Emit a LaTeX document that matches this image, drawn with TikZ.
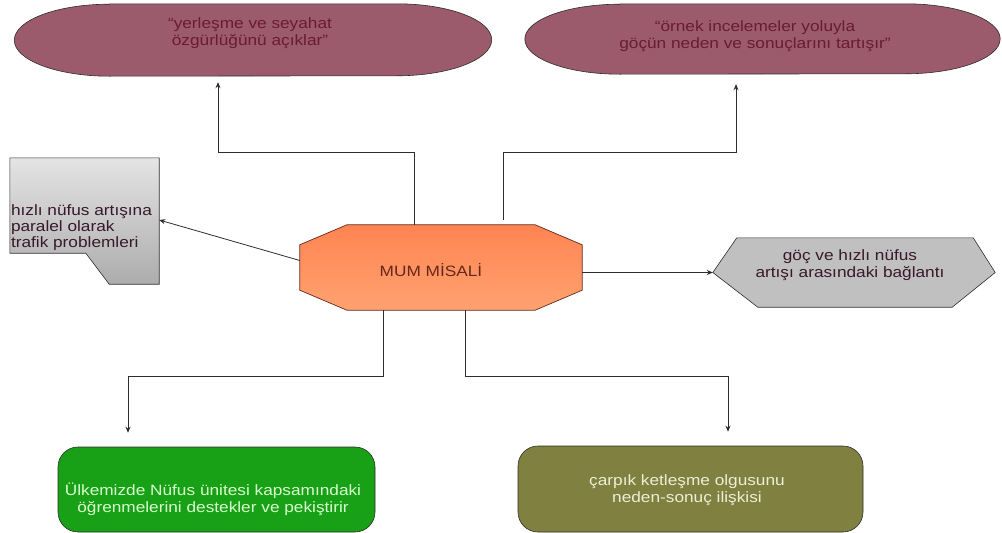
\documentclass[tikz,border=0pt]{standalone}
\usepackage{fontspec}
\setmainfont{Liberation Sans}[FakeStretch=1.15]
\usetikzlibrary{arrows.meta,backgrounds}

\definecolor{bordo}{RGB}{155,91,108}
\definecolor{bordoyazi}{RGB}{105,28,50}
\definecolor{turuncu1}{RGB}{255,132,82}
\definecolor{turuncu2}{RGB}{255,162,112}
\definecolor{kahve}{RGB}{100,40,28}
\definecolor{gri}{RGB}{192,192,192}
\definecolor{griacik}{RGB}{228,228,228}
\definecolor{grikoyu}{RGB}{172,172,172}
\definecolor{koyuyazi}{RGB}{55,25,40}
\definecolor{yesil}{RGB}{24,160,22}
\definecolor{yesilyazi}{RGB}{215,255,205}
\definecolor{zeytin}{RGB}{128,128,64}
\definecolor{zeytinyazi}{RGB}{238,238,215}
\definecolor{cizgi}{RGB}{45,45,45}

\newcommand{\kutuyazi}{\fontsize{15}{17}\selectfont}

\begin{document}
\begin{tikzpicture}[x=1pt,y=-1pt,
    ok/.style={draw=cizgi,line width=0.8pt,-{Stealth[length=6pt,width=5pt]}},
    every label/.style={font=\kutuyazi,align=center,inner sep=1pt},
    kenar/.style={draw=cizgi,line width=0.6pt},
    kutu/.style={rounded corners=20pt,kenar,inner sep=0pt}]
    \useasboundingbox (0,0) rectangle (1002,533);

    % merkez
    \node[minimum width=282pt,minimum height=85pt,inner sep=0pt,
        label={[xshift=-10pt,yshift=-2.5pt,text=kahve]center:MUM MİSALİ}] (mum) at (441,267.5) {};

    % hedefler
    \node[minimum width=477pt,minimum height=72pt,inner sep=0pt,
        label={[xshift=-3pt,yshift=6.5pt,text=bordoyazi]center:“yerleşme ve seyahat\\özgürlüğünü açıklar”}] (yer) at (253,40) {};
    \node[minimum width=475pt,minimum height=70pt,inner sep=0pt,
        label={[xshift=-7.5pt,yshift=2.5pt,text=bordoyazi]center:“örnek incelemeler yoluyla\\göçün neden ve sonuçlarını tartışır”}] (ork) at (762.5,39) {};
    \node[minimum width=149pt,minimum height=126pt,inner sep=0pt,
        label={[anchor=west,yshift=-7pt,align=left,text=koyuyazi,font=\fontsize{15}{16}\selectfont]west:hızlı nüfus artışına\\paralel olarak\\trafik problemleri}] (not) at (84.5,221) {};
    \node[minimum width=282pt,minimum height=69pt,inner sep=0pt,
        label={[xshift=-4pt,yshift=7.5pt,text=koyuyazi]center:göç ve hızlı nüfus\\artışı arasındaki bağlantı}] (hex) at (854,272.5) {};
    \node[kutu,fill=yesil,minimum width=317pt,minimum height=85pt,
        label={[xshift=-3.5pt,yshift=-9.5pt,text=yesilyazi]center:Ülkemizde Nüfus ünitesi kapsamındaki\\öğrenmelerini destekler ve pekiştirir}] (ulke) at (216.5,489.5) {};
    \node[kutu,fill=zeytin,minimum width=345pt,minimum height=86pt,
        label={[xshift=-3.5pt,yshift=-1pt,text=zeytinyazi]center:çarpık ketleşme olgusunu\\neden-sonuç ilişkisi}] (carp) at (690.5,489) {};

    \begin{scope}[on background layer]
        \shade[draw=kahve,line width=0.7pt,top color=turuncu1,bottom color=turuncu2]
            ([xshift=47pt]mum.north west) -- ([xshift=-47pt]mum.north east)
            -- ([yshift=-20pt]mum.north east) -- ([yshift=20pt]mum.south east)
            -- ([xshift=-47pt]mum.south east) -- ([xshift=47pt]mum.south west)
            -- ([yshift=20pt]mum.south west) -- ([yshift=-20pt]mum.north west) -- cycle;
        \filldraw[kenar,fill=bordo] ([xshift=95pt]yer.north west) -- ([xshift=-95pt]yer.north east)
            arc[start angle=-90,end angle=90,x radius=95,y radius=36]
            -- ([xshift=95pt]yer.south west)
            arc[start angle=90,end angle=270,x radius=95,y radius=36] -- cycle;
        \filldraw[kenar,fill=bordo] ([xshift=95pt]ork.north west) -- ([xshift=-95pt]ork.north east)
            arc[start angle=-90,end angle=90,x radius=95,y radius=35]
            -- ([xshift=95pt]ork.south west)
            arc[start angle=90,end angle=270,x radius=95,y radius=35] -- cycle;
        \shade[kenar,top color=griacik,bottom color=grikoyu] (not.north west) -- (not.north east)
            -- (not.south east) -- ([xshift=-50pt]not.south east)
            -- ([xshift=76pt,yshift=31pt]not.south west) -- ([yshift=31pt]not.south west) -- cycle;
        \filldraw[kenar,fill=gri] (hex.west) -- ([xshift=24pt]hex.north west) -- ([xshift=-22pt]hex.north east)
            -- (hex.east) -- ([xshift=-43pt]hex.south east) -- ([xshift=45pt]hex.south west) -- cycle;
    \end{scope}

    % baglantilar
    \draw[ok] ([xshift=-27pt]mum.north) -- ++(0,-72) -| ([xshift=-35pt,yshift=-6pt]yer.south);
    \draw[ok] ([xshift=62pt,yshift=5pt]mum.north) -- ++(0,-67) -| ([xshift=-26.5pt,yshift=-10pt]ork.south);
    \draw[ok] ([yshift=7pt]mum.west) -- ([yshift=1pt]not.east);
    \draw[ok] (mum.east |- hex.west) -- (hex.west);
    \draw[ok] ([xshift=-58pt]mum.south) -- ++(0,66) -| ([xshift=-88.5pt,yshift=14pt]ulke.north);
    \draw[ok] ([xshift=24pt]mum.south) -- ++(0,66) -| ([xshift=37.5pt,yshift=14pt]carp.north);
\end{tikzpicture}
\end{document}
